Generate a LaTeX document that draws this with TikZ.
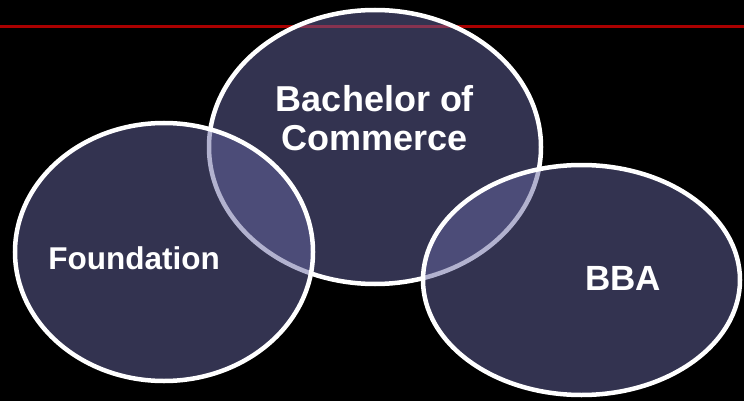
\documentclass[tikz,border=0pt]{standalone}
\usepackage{fontspec}
\setmainfont{Liberation Sans}
\usetikzlibrary{shapes.geometric}
\definecolor{navy}{RGB}{102,102,160}
\definecolor{rule}{RGB}{170,0,0}
\tikzstyle{set}=[shape=ellipse,draw=white,line width=4.5pt,fill=navy,fill opacity=0.5,draw opacity=1,inner sep=0pt]
\tikzstyle{lbl}=[text=white,font=\bfseries,align=center,inner sep=0pt]

\begin{document}
\begin{tikzpicture}[x=1pt,y=-1pt]
	\fill[black] (0,0) rectangle (744,401);
	\useasboundingbox (0,0) rectangle (744,401);
	\coordinate (l) at (0,27);
	\coordinate (r) at (744,27);
	\draw[rule,line width=3pt] (l) -- (r);
	\node[set,minimum width=332pt,minimum height=274pt] (com) at (375,147) {};
	\node[set,minimum width=298pt,minimum height=258pt] (fnd) at (164,252) {};
	\node[set,minimum width=317pt,minimum height=230pt] (bba) at (581.5,280) {};
	\node[lbl,font=\fontsize{36}{39}\selectfont\bfseries] (tcom) at (375,118) {Bachelor of\\Commerce};
	\node[lbl,font=\fontsize{31.5}{34}\selectfont\bfseries] (tfnd) at (134,258) {Foundation};
	\node[lbl,font=\fontsize{35}{38}\selectfont\bfseries] (tbba) at (623,278) {BBA};
\end{tikzpicture}
\end{document}
